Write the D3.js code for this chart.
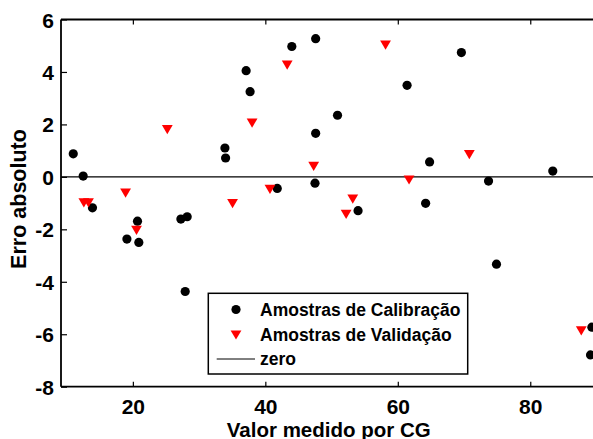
<!DOCTYPE html>
<html>
<head>
<meta charset="utf-8">
<script src="https://cdn.jsdelivr.net/npm/d3@7"></script>
<style>
  html, body { margin: 0; padding: 0; background: #fff; }
  svg { display: block; font-family: "Liberation Sans", Arial, Helvetica, sans-serif; }
</style>
</head>
<body>
<svg id="chart" width="593" height="439"></svg>
<script>
// Calibration samples (black circles)
const calX = [11.0, 12.5, 13.9, 20.7, 19.1, 20.9, 27.25, 28.2, 27.9, 33.9, 34.0, 37.1, 37.7, 44.0, 47.6, 47.6, 47.5, 41.8, 50.9, 61.4, 69.6, 64.8, 54.0, 64.2, 73.7, 83.4, 74.9, 89.3, 89.1];
const calY = [0.88, 0.03, -1.18, -1.69, -2.37, -2.5, -1.61, -1.52, -4.37, 1.10, 0.72, 4.05, 3.25, 4.97, 5.27, 1.66, -0.24, -0.44, 2.35, 3.49, 4.74, 0.57, -1.29, -1.01, -0.16, 0.22, -3.33, -5.73, -6.79];
// Validation samples (red triangles)
const valX = [25.2, 18.9, 12.6, 13.3, 20.55, 38.0, 43.3, 47.3, 40.7, 35.05, 58.15, 61.7, 53.2, 52.2, 70.8, 87.7];
const valY = [1.80, -0.62, -0.99, -0.99, -2.04, 2.05, 4.26, 0.40, -0.48, -1.02, 5.02, -0.12, -0.85, -1.43, 0.85, -5.87];
// Ticks and labels
const xTicks = [20, 40, 60, 80];
const yTicks = [-8, -6, -4, -2, 0, 2, 4, 6];
const xDomain = [9.15, 90];
const yDomain = [-8, 6];
const xTitle = "Valor medido por CG";
const yTitle = "Erro absoluto";
const legendLabels = ["Amostras de Calibração", "Amostras de Validação", "zero"];

const svg = d3.select("#chart");
const L = 61, R = 596.5, T = 19.5, B = 386.7;
const x = d3.scaleLinear().domain(xDomain).range([L, R]);
const y = d3.scaleLinear().domain(yDomain).range([B, T]);

// zero line
svg.append("line")
  .attr("x1", x(xDomain[0])).attr("x2", x(xDomain[1]))
  .attr("y1", y(0)).attr("y2", y(0))
  .attr("stroke", "#000").attr("stroke-width", 1.2);

// points
const cal = calX.map((v, i) => [v, calY[i]]);
const val = valX.map((v, i) => [v, valY[i]]);

svg.append("g").selectAll("circle").data(cal).join("circle")
  .attr("cx", d => x(d[0])).attr("cy", d => y(d[1]))
  .attr("r", 4.6).attr("fill", "#000");

const tri = "M-5.4,-4.6L5.4,-4.6L0,4.6Z";
svg.append("g").selectAll("path").data(val).join("path")
  .attr("d", tri)
  .attr("transform", d => `translate(${x(d[0])},${y(d[1])})`)
  .attr("fill", "#ff0000");

// axes
const fontTick = "bold 21px 'Liberation Sans', Arial, sans-serif";
const fmt = d => String(d);
const gxB = svg.append("g").attr("transform", `translate(0,${B})`)
  .call(d3.axisBottom(x).tickValues(xTicks).tickSize(-5).tickPadding(12).tickFormat(fmt));
const gxT = svg.append("g").attr("transform", `translate(0,${T})`)
  .call(d3.axisTop(x).tickValues(xTicks).tickSize(-5).tickFormat(""));
const gyL = svg.append("g").attr("transform", `translate(${L},0)`)
  .call(d3.axisLeft(y).tickValues(yTicks).tickSize(-6).tickPadding(7).tickFormat(fmt));

[gxB, gxT, gyL].forEach(g => {
  g.select(".domain").attr("stroke", "#000").attr("stroke-width", 1.8);
  g.selectAll(".tick line").attr("stroke", "#000").attr("stroke-width", 1.2);
  g.selectAll(".tick text").attr("fill", "#000").style("font", fontTick);
});
gxB.select(".domain").attr("d", `M${L},0H${R}`);
gxT.select(".domain").attr("d", `M${L},0H${R}`);
gyL.select(".domain").attr("d", `M0,${T}V${B}`);
gyL.selectAll(".tick text").attr("dy", "0.36em");

// axis titles
svg.append("text")
  .attr("x", (L + R) / 2).attr("y", 436.5)
  .attr("text-anchor", "middle")
  .style("font", "bold 20.5px 'Liberation Sans', Arial, sans-serif")
  .text(xTitle);
svg.append("text")
  .attr("transform", `translate(26,199) rotate(-90)`)
  .attr("text-anchor", "middle")
  .style("font", "bold 21.5px 'Liberation Sans', Arial, sans-serif")
  .text(yTitle);

// legend
const lg = svg.append("g");
lg.append("rect").attr("x", 208.3).attr("y", 293.3).attr("width", 259.4).attr("height", 80.7)
  .attr("fill", "#fff").attr("stroke", "#000").attr("stroke-width", 1.5);
const ly = [309.5, 335, 359];
lg.append("circle").attr("cx", 236).attr("cy", ly[0]).attr("r", 4.6).attr("fill", "#000");
lg.append("path").attr("d", tri).attr("transform", `translate(236,${ly[1]})`).attr("fill", "#ff0000");
lg.append("line").attr("x1", 216.7).attr("x2", 255).attr("y1", ly[2]).attr("y2", ly[2])
  .attr("stroke", "#000").attr("stroke-width", 1);
legendLabels.forEach((t, i) => {
  lg.append("text").attr("x", 260).attr("y", ly[i]).attr("dy", "0.35em")
    .style("font", "bold 17.5px 'Liberation Sans', Arial, sans-serif")
    .text(t);
});
</script>
</body>
</html>
